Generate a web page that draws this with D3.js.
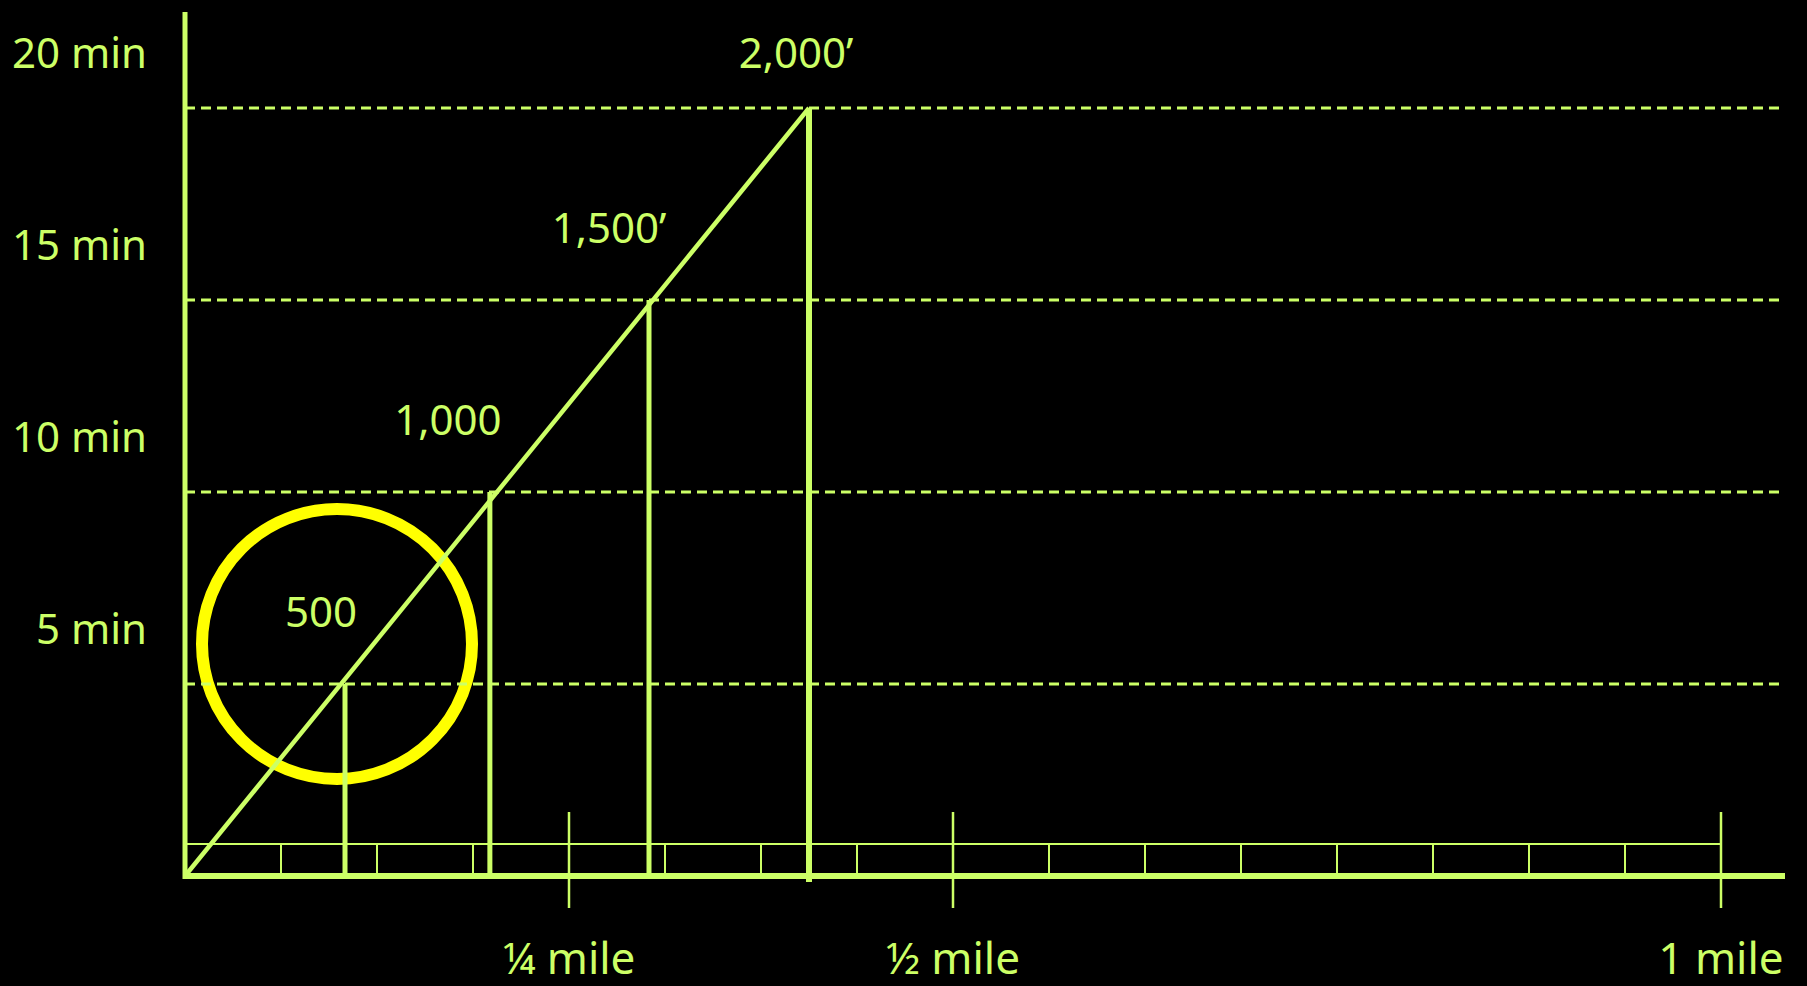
<!DOCTYPE html>
<html>
<head>
<meta charset="utf-8">
<script src="https://cdn.jsdelivr.net/npm/d3@7"></script>
<style>
  html, body { margin: 0; padding: 0; background: #000; overflow: hidden; }
</style>
</head>
<body>
<div id="chart"></div>
<script>
// walking distance (ft) vs walking time (min)
const distanceFt = [550, 1048, 1595, 2145];
const walkMinutes = [5, 10, 15, 20];
const pointLabels = ["500", "1,000", "1,500\u2019", "2,000\u2019"];
const timeTicks = [5, 10, 15, 20];
const timeTickLabels = ["5 min", "10 min", "15 min", "20 min"];
const mileTicks = [0.25, 0.5, 1];
const mileTickLabels = ["\u00bc mile", "\u00bd mile", "1 mile"];
const rulerDivisions = 16; // 1/16 mile each

// label nudges relative to each point (layout only)
const labelNudge = [[-24, -57], [-42, -57], [-40, -57], [-13, -40]];

const width = 1807, height = 986;
const green = "#CCFF66";
const font = "'Noto Sans', sans-serif";
const FT_PER_MILE = 5280;

const svg = d3.select("#chart").append("svg")
    .attr("width", width)
    .attr("height", height)
    .style("background", "#000");

const x = d3.scaleLinear().domain([0, FT_PER_MILE]).range([185, 1721]);
const y = d3.scaleLinear().domain([0, 20]).range([876, 108]);
const rightEdge = 1784;

const points = distanceFt.map((d, i) => ({ ft: d, min: walkMinutes[i], label: pointLabels[i] }));

// highlight circle around the first point (drawn first, lines go over it)
svg.append("circle")
    .attr("cx", x(points[0].ft) - 8)
    .attr("cy", y(points[0].min) - 40)
    .attr("r", 135)
    .attr("fill", "none")
    .attr("stroke", "#FFFF00")
    .attr("stroke-width", 12);

// dashed guide lines
svg.append("g").selectAll("line")
    .data(timeTicks)
    .join("line")
    .attr("x1", x(0)).attr("x2", rightEdge)
    .attr("y1", d => y(d)).attr("y2", d => y(d))
    .attr("stroke", green)
    .attr("stroke-width", 2.8)
    .attr("stroke-dasharray", "10,6");

// ruler: top line, small divisions, big mile ticks
const ruler = svg.append("g");
ruler.append("line")
    .attr("x1", x(0)).attr("x2", x(FT_PER_MILE))
    .attr("y1", 844).attr("y2", 844)
    .attr("stroke", green).attr("stroke-width", 2);
ruler.selectAll("line.div")
    .data(d3.range(1, rulerDivisions))
    .join("line")
    .attr("class", "div")
    .attr("x1", d => x(d * FT_PER_MILE / rulerDivisions))
    .attr("x2", d => x(d * FT_PER_MILE / rulerDivisions))
    .attr("y1", 844).attr("y2", 876)
    .attr("stroke", green).attr("stroke-width", 2);
ruler.selectAll("line.big")
    .data(mileTicks)
    .join("line")
    .attr("class", "big")
    .attr("x1", d => x(d * FT_PER_MILE))
    .attr("x2", d => x(d * FT_PER_MILE))
    .attr("y1", 812).attr("y2", 908)
    .attr("stroke", green).attr("stroke-width", 2.5);

// vertical drops from each point
svg.append("g").selectAll("line")
    .data(points)
    .join("line")
    .attr("x1", d => x(d.ft)).attr("x2", d => x(d.ft))
    .attr("y1", d => y(d.min))
    .attr("y2", (d, i) => i === points.length - 1 ? y(0) + 6 : y(0))
    .attr("stroke", green)
    .attr("stroke-width", (d, i) => i === points.length - 1 ? 6 : 5);

// diagonal from origin to last point
const last = points[points.length - 1];
svg.append("path")
    .datum([{ ft: 0, min: 0 }, last])
    .attr("d", d3.line().x(d => x(d.ft)).y(d => y(d.min)))
    .attr("stroke", green)
    .attr("stroke-width", 4.5)
    .attr("fill", "none");

// axes
svg.append("line")
    .attr("x1", x(0)).attr("x2", x(0))
    .attr("y1", 12).attr("y2", y(0) + 3)
    .attr("stroke", green).attr("stroke-width", 5);
svg.append("line")
    .attr("x1", x(0) - 2).attr("x2", rightEdge + 1)
    .attr("y1", y(0)).attr("y2", y(0))
    .attr("stroke", green).attr("stroke-width", 6);

// y labels
svg.append("g").selectAll("text")
    .data(timeTicks)
    .join("text")
    .attr("x", 147)
    .attr("y", d => y(d) - 40)
    .attr("text-anchor", "end")
    .attr("fill", green)
    .style("font-family", font)
    .style("font-size", "42px")
    .text((d, i) => timeTickLabels[i]);

// x labels
svg.append("g").selectAll("text")
    .data(mileTicks)
    .join("text")
    .attr("x", d => x(d * FT_PER_MILE))
    .attr("y", 974)
    .attr("text-anchor", "middle")
    .attr("fill", green)
    .style("font-family", font)
    .style("font-size", "44px")
    .text((d, i) => mileTickLabels[i]);

// point labels
svg.append("g").selectAll("text")
    .data(points)
    .join("text")
    .attr("x", (d, i) => x(d.ft) + labelNudge[i][0])
    .attr("y", (d, i) => y(d.min) + labelNudge[i][1])
    .attr("text-anchor", "middle")
    .attr("fill", green)
    .style("font-family", font)
    .style("font-size", "42px")
    .text(d => d.label);
</script>
</body>
</html>
